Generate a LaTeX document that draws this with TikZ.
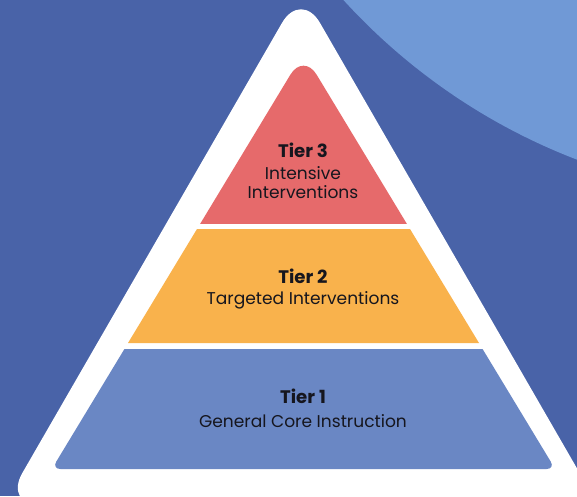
\documentclass[tikz,border=0pt]{standalone}
\usepackage{fontspec}
\setmainfont{Poppins}

\definecolor{bgblue}{RGB}{73,99,168}
\definecolor{arcblue}{RGB}{112,153,214}
\definecolor{tierblue}{RGB}{106,135,196}
\definecolor{tierorange}{RGB}{249,178,76}
\definecolor{tierred}{RGB}{230,106,107}
\definecolor{ink}{RGB}{22,22,30}

\begin{document}
\begin{tikzpicture}[
        x=0.75pt, y=-0.75pt,
        tiername/.style={anchor=base, inner sep=0pt, text=ink, font=\fontsize{13.6}{16}\selectfont\bfseries},
        tiertext/.style={anchor=base, inner sep=0pt, text=ink, font=\fontsize{12.8}{15}\selectfont}
    ]
    \useasboundingbox (0,0) rectangle (577,496);
    \clip (0,0) rectangle (577,496);
    \fill[bgblue] (0,0) rectangle (577,496);
    \fill[arcblue] (796,-412) circle [radius=459pt];

    % white frame
    \fill[white, rounded corners=28.5pt] (301,506) -- (598.7,506) -- (301,-10) -- (3.3,506) -- cycle;

    % tier 3
    \begin{scope}
    \clip (0,0) rectangle (577,223);
    \fill[tierred, rounded corners=19pt] (303.5,300) -- (452.9,300) -- (303.5,53) -- (154.1,300) -- cycle;
    \end{scope}
    % tier 2
    \fill[tierorange] (197,229) -- (410,229) -- (479,343) -- (128,343) -- cycle;
    % tier 1
    \begin{scope}
    \clip (0,349) rectangle (577,496);
    \fill[tierblue, rounded corners=6.5pt] (303.5,469) -- (51.8,469) -- (154.1,300) -- (452.9,300) -- (555.2,469) -- cycle;
    \end{scope}

    \node (t3) at (303,157) [tiername] {Tier 3};
    \node (t3a) at (303,179) [tiertext] {Intensive};
    \node (t3b) at (303,198) [tiertext] {Interventions};

    \node (t2) at (303,283) [tiername] {Tier 2};
    \node (t2a) at (303,304) [tiertext] {Targeted Interventions};

    \node (t1) at (303,403) [tiername] {Tier 1};
    \node (t1a) at (303,427) [tiertext] {General Core Instruction};
\end{tikzpicture}
\end{document}
